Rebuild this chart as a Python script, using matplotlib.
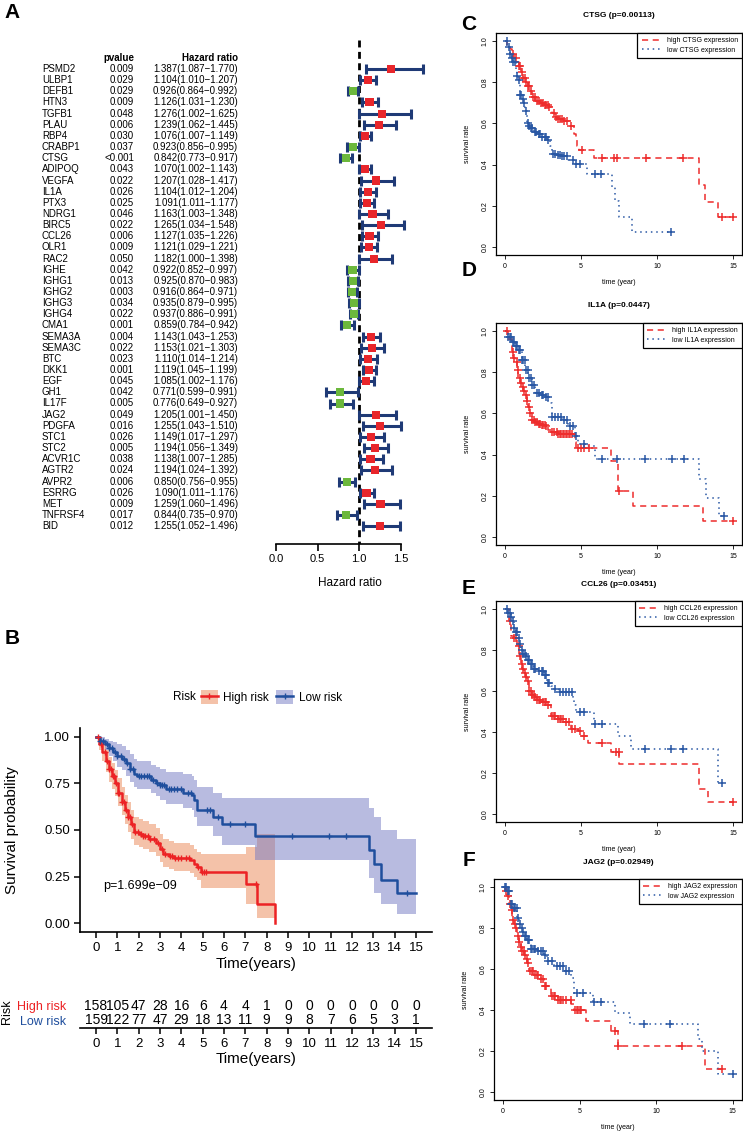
import numpy as np
import matplotlib
matplotlib.use("Agg")
import matplotlib.pyplot as plt
from matplotlib.lines import Line2D
from matplotlib.patches import Patch
from matplotlib.transforms import blended_transform_factory

plt.rcParams['font.family'] = ['Liberation Sans', 'DejaVu Sans']

# ---------------- panel A: univariate Cox forest ----------------
genes = ['PSMD2', 'ULBP1', 'DEFB1', 'HTN3', 'TGFB1', 'PLAU', 'RBP4', 'CRABP1', 'CTSG',
         'ADIPOQ', 'VEGFA', 'IL1A', 'PTX3', 'NDRG1', 'BIRC5', 'CCL26', 'OLR1', 'RAC2',
         'IGHE', 'IGHG1', 'IGHG2', 'IGHG3', 'IGHG4', 'CMA1', 'SEMA3A', 'SEMA3C', 'BTC',
         'DKK1', 'EGF', 'GH1', 'IL17F', 'JAG2', 'PDGFA', 'STC1', 'STC2', 'ACVR1C',
         'AGTR2', 'AVPR2', 'ESRRG', 'MET', 'TNFRSF4', 'BID']
pvals = ['0.009', '0.029', '0.029', '0.009', '0.048', '0.006', '0.030', '0.037', '<0.001',
         '0.043', '0.022', '0.026', '0.025', '0.046', '0.022', '0.006', '0.009', '0.050',
         '0.042', '0.013', '0.003', '0.034', '0.022', '0.001', '0.004', '0.022', '0.023',
         '0.001', '0.045', '0.042', '0.005', '0.049', '0.016', '0.026', '0.005', '0.038',
         '0.024', '0.006', '0.026', '0.009', '0.017', '0.012']
hr = [1.387, 1.104, 0.926, 1.126, 1.276, 1.239, 1.076, 0.923, 0.842, 1.070, 1.207, 1.104,
      1.091, 1.163, 1.265, 1.127, 1.121, 1.182, 0.922, 0.925, 0.916, 0.935, 0.937, 0.859,
      1.143, 1.153, 1.110, 1.119, 1.085, 0.771, 0.776, 1.205, 1.255, 1.149, 1.194, 1.138,
      1.194, 0.850, 1.090, 1.259, 0.844, 1.255]
hr_low = [1.087, 1.010, 0.864, 1.031, 1.002, 1.062, 1.007, 0.856, 0.773, 1.002, 1.028, 1.012,
          1.011, 1.003, 1.034, 1.035, 1.029, 1.000, 0.852, 0.870, 0.864, 0.879, 0.886, 0.784,
          1.043, 1.021, 1.014, 1.045, 1.002, 0.599, 0.649, 1.001, 1.043, 1.017, 1.056, 1.007,
          1.024, 0.756, 1.011, 1.060, 0.735, 1.052]
hr_high = [1.770, 1.207, 0.992, 1.230, 1.625, 1.445, 1.149, 0.995, 0.917, 1.143, 1.417, 1.204,
           1.177, 1.348, 1.548, 1.226, 1.221, 1.398, 0.997, 0.983, 0.971, 0.995, 0.991, 0.942,
           1.253, 1.303, 1.214, 1.199, 1.176, 0.991, 0.927, 1.450, 1.510, 1.297, 1.349, 1.285,
           1.392, 0.955, 1.176, 1.496, 0.970, 1.496]

# ---------------- panel B: risk score KM ----------------
b_high_t = [0, 0.15, 0.3, 0.45, 0.6, 0.75, 0.9, 1.05, 1.2, 1.35, 1.5, 1.65, 1.8, 2.0, 2.2,
            2.5, 2.8, 3.0, 3.15, 3.4, 3.65, 4.4, 4.6, 4.75, 4.9, 7.05, 7.55, 8.4]
b_high_s = [1.0, 0.96, 0.92, 0.87, 0.83, 0.79, 0.75, 0.70, 0.65, 0.61, 0.57, 0.53, 0.49, 0.48,
            0.47, 0.45, 0.43, 0.40, 0.37, 0.36, 0.35, 0.34, 0.32, 0.30, 0.275, 0.21, 0.10, 0.0]
b_high_up = [1.0, 0.99, 0.96, 0.93, 0.89, 0.86, 0.82, 0.78, 0.73, 0.69, 0.65, 0.61, 0.57, 0.56,
             0.55, 0.53, 0.51, 0.48, 0.45, 0.44, 0.43, 0.42, 0.40, 0.38, 0.37, 0.41, 0.48, 0.48]
b_high_lo = [1.0, 0.93, 0.87, 0.81, 0.76, 0.72, 0.68, 0.63, 0.58, 0.53, 0.49, 0.45, 0.42, 0.41,
             0.40, 0.38, 0.36, 0.33, 0.30, 0.29, 0.28, 0.27, 0.25, 0.23, 0.19, 0.10, 0.025, 0.025]
b_high_cens = [0.1, 0.25, 0.4, 0.5, 0.6, 0.7, 0.8, 0.85, 0.95, 1.05, 1.1, 1.2, 1.3, 1.4, 1.5,
               1.6, 1.7, 1.85, 1.95, 2.1, 2.2, 2.3, 2.45, 2.55, 2.7, 2.9, 3.1, 3.25, 3.45,
               3.55, 3.7, 3.85, 4.0, 4.2, 4.35, 4.8, 4.95, 5.05, 5.15, 7.5]

b_low_t = [0, 0.2, 0.4, 0.6, 0.8, 1.0, 1.2, 1.4, 1.6, 1.8, 1.9, 2.6, 2.8, 3.0, 3.3, 3.9, 4.1,
           4.5, 4.6, 4.75, 5.5, 5.9, 7.45, 12.8, 13.05, 13.35, 14.1, 15.0]
b_low_s = [1.0, 0.98, 0.96, 0.94, 0.92, 0.90, 0.88, 0.86, 0.83, 0.80, 0.79, 0.77, 0.75, 0.74,
           0.72, 0.72, 0.70, 0.69, 0.66, 0.61, 0.57, 0.53, 0.47, 0.39, 0.32, 0.23, 0.16, 0.16]
b_low_up = [1.0, 1.0, 0.99, 0.98, 0.97, 0.96, 0.95, 0.93, 0.91, 0.88, 0.87, 0.85, 0.84, 0.83,
            0.81, 0.81, 0.80, 0.79, 0.77, 0.73, 0.70, 0.67, 0.67, 0.62, 0.57, 0.50, 0.45, 0.45]
b_low_lo = [1.0, 0.96, 0.93, 0.90, 0.87, 0.84, 0.82, 0.79, 0.76, 0.73, 0.72, 0.70, 0.68, 0.66,
            0.64, 0.64, 0.62, 0.61, 0.57, 0.52, 0.47, 0.42, 0.34, 0.24, 0.16, 0.10, 0.05, 0.05]
b_low_cens = [0.2, 0.35, 0.5, 0.6, 0.75, 0.9, 1.0, 1.15, 1.3, 1.45, 1.6, 1.75, 2.0, 2.1, 2.25,
              2.4, 2.5, 2.65, 2.85, 3.0, 3.1, 3.2, 3.4, 3.5, 3.65, 3.8, 4.0, 4.3, 4.45, 5.2,
              5.35, 5.7, 6.3, 7.0, 9.2, 10.9, 11.7, 14.6]

risk_years = list(range(16))
n_high = [158, 105, 47, 28, 16, 6, 4, 4, 1, 0, 0, 0, 0, 0, 0, 0]
n_low = [159, 122, 77, 47, 29, 18, 13, 11, 9, 9, 8, 7, 6, 5, 3, 1]

# ---------------- panels C-F: single gene KM ----------------
c_hi_t = [0, 0.15, 0.3, 0.45, 0.6, 0.75, 0.9, 1.05, 1.2, 1.35, 1.5, 1.65, 1.8, 2.0, 2.3, 2.6,
          2.9, 3.1, 3.3, 3.5, 3.9, 4.3, 4.55, 4.65, 4.75, 4.85, 5.85, 12.8, 13.15, 14.0, 15.0]
c_hi_s = [1.0, 0.98, 0.96, 0.94, 0.92, 0.90, 0.88, 0.85, 0.82, 0.80, 0.78, 0.76, 0.73, 0.71,
          0.70, 0.69, 0.68, 0.65, 0.63, 0.62, 0.61, 0.59, 0.55, 0.52, 0.49, 0.47, 0.43, 0.30,
          0.217, 0.144, 0.144]
c_hi_c = [0.5, 0.7, 0.9, 1.0, 1.1, 1.2, 1.3, 1.4, 1.5, 1.6, 1.7, 1.85, 1.95, 2.1, 2.2, 2.35,
          2.5, 2.6, 2.7, 2.8, 2.9, 3.2, 3.35, 3.5, 3.6, 3.75, 3.9, 4.1, 4.35, 5.05, 6.4, 7.2,
          7.4, 9.3, 11.7, 14.3, 15.0]
c_lo_t = [0, 0.15, 0.33, 0.45, 0.55, 0.7, 0.77, 0.88, 0.99, 1.1, 1.21, 1.32, 1.43, 1.55, 1.65,
          1.9, 2.1, 2.4, 2.76, 2.98, 3.09, 3.4, 3.64, 4.1, 4.52, 5.4, 7.06, 7.25, 7.5, 8.38, 10.9]
c_lo_s = [1.0, 0.97, 0.94, 0.92, 0.90, 0.86, 0.83, 0.81, 0.74, 0.72, 0.70, 0.66, 0.60, 0.59,
          0.58, 0.56, 0.55, 0.535, 0.52, 0.49, 0.45, 0.445, 0.44, 0.42, 0.405, 0.356, 0.29,
          0.225, 0.144, 0.074, 0.074]
c_lo_c = [0.1, 0.25, 0.35, 0.45, 0.55, 0.65, 0.8, 0.9, 1.0, 1.05, 1.15, 1.25, 1.35, 1.5, 1.6,
          1.7, 1.8, 1.95, 2.05, 2.2, 2.3, 2.45, 2.6, 2.7, 2.85, 3.15, 3.3, 3.5, 3.6, 3.75, 3.9,
          4.05, 4.5, 4.7, 4.9, 5.9, 6.3, 10.9]

d_hi_t = [0, 0.2, 0.44, 0.55, 0.66, 0.77, 0.88, 1.0, 1.09, 1.2, 1.31, 1.42, 1.53, 1.64, 1.75,
          2.0, 2.19, 2.4, 2.63, 2.85, 3.07, 3.5, 4.6, 4.7, 7.0, 7.45, 8.4, 13.0, 15.0]
d_hi_s = [1.0, 0.96, 0.90, 0.87, 0.85, 0.81, 0.77, 0.75, 0.73, 0.71, 0.69, 0.66, 0.63, 0.60,
          0.57, 0.56, 0.55, 0.545, 0.54, 0.52, 0.51, 0.50, 0.46, 0.43, 0.37, 0.225, 0.149,
          0.078, 0.078]
d_hi_c = [0.1, 0.5, 0.6, 0.75, 0.85, 0.95, 1.05, 1.15, 1.25, 1.35, 1.45, 1.55, 1.65, 1.8, 1.9,
          2.0, 2.1, 2.2, 2.3, 2.4, 2.5, 2.6, 2.7, 3.1, 3.2, 3.4, 3.5, 3.6, 3.7, 3.8, 3.9, 4.0,
          4.1, 4.2, 4.3, 4.4, 4.8, 5.0, 5.2, 5.5, 7.5, 15.0]
d_lo_t = [0, 0.2, 0.44, 0.66, 0.88, 1.09, 1.31, 1.53, 1.75, 1.97, 2.3, 2.63, 2.85, 3.07, 3.72,
          4.16, 4.6, 4.82, 5.26, 5.9, 12.8, 13.25, 14.1, 14.4]
d_lo_s = [1.0, 0.97, 0.95, 0.93, 0.91, 0.86, 0.81, 0.77, 0.74, 0.70, 0.69, 0.68, 0.65, 0.585,
          0.57, 0.54, 0.49, 0.45, 0.44, 0.377, 0.283, 0.19, 0.10, 0.10]
d_lo_c = [0.2, 0.3, 0.4, 0.5, 0.6, 0.7, 0.8, 0.9, 1.0, 1.1, 1.2, 1.3, 1.4, 1.5, 1.6, 1.7, 1.8,
          1.9, 2.1, 2.2, 2.4, 2.5, 2.7, 2.8, 3.1, 3.3, 3.5, 3.7, 3.9, 4.1, 4.3, 4.5, 4.7, 5.2,
          6.4, 7.4, 9.2, 11.0, 11.8, 14.4]

e_hi_t = [0, 0.26, 0.37, 0.59, 0.81, 0.92, 1.03, 1.14, 1.25, 1.36, 1.47, 1.58, 1.75, 1.91, 2.1,
          2.35, 2.79, 3.01, 3.45, 3.89, 4.33, 4.77, 4.99, 5.43, 6.97, 7.52, 12.8, 13.35, 15.0]
e_hi_s = [1.0, 0.94, 0.87, 0.86, 0.82, 0.77, 0.73, 0.71, 0.69, 0.67, 0.65, 0.60, 0.58, 0.57,
          0.555, 0.545, 0.53, 0.48, 0.463, 0.447, 0.414, 0.406, 0.38, 0.344, 0.30, 0.242, 0.12,
          0.059, 0.059]
e_hi_c = [0.3, 0.6, 0.7, 0.9, 1.0, 1.1, 1.2, 1.3, 1.4, 1.5, 1.6, 1.7, 1.8, 1.9, 2.0, 2.1, 2.2,
          2.3, 2.5, 2.6, 2.7, 2.8, 3.1, 3.2, 3.3, 3.5, 3.6, 3.7, 3.8, 4.0, 4.2, 4.4, 4.6, 4.9,
          5.2, 6.4, 7.3, 7.5, 15.0]
e_lo_t = [0, 0.2, 0.37, 0.5, 0.59, 0.7, 0.81, 0.92, 1.03, 1.2, 1.36, 1.5, 1.69, 1.9, 2.13,
          2.57, 2.79, 3.0, 3.23, 3.56, 4.44, 4.55, 4.66, 5.87, 7.41, 8.29, 14.0, 14.34]
e_lo_s = [1.0, 0.98, 0.96, 0.94, 0.91, 0.89, 0.86, 0.83, 0.80, 0.78, 0.77, 0.75, 0.73, 0.71,
          0.70, 0.68, 0.64, 0.625, 0.61, 0.594, 0.56, 0.53, 0.496, 0.44, 0.38, 0.316, 0.152,
          0.152]
e_lo_c = [0.1, 0.2, 0.3, 0.4, 0.5, 0.6, 0.7, 0.8, 0.9, 1.0, 1.1, 1.2, 1.3, 1.4, 1.5, 1.6, 1.7,
          1.8, 1.9, 2.0, 2.2, 2.4, 2.5, 2.6, 2.7, 2.8, 2.9, 3.3, 3.6, 3.8, 4.0, 4.2, 4.4, 4.9,
          5.2, 5.9, 6.4, 9.2, 10.9, 11.7, 14.3]

f_hi_t = [0, 0.15, 0.26, 0.37, 0.48, 0.59, 0.7, 0.81, 0.92, 1.03, 1.14, 1.25, 1.36, 1.47, 1.58,
          1.69, 2.01, 2.45, 2.67, 3.11, 3.55, 4.42, 4.64, 5.41, 7.05, 7.49, 13.18, 14.28]
f_hi_s = [1.0, 0.98, 0.956, 0.92, 0.89, 0.84, 0.82, 0.80, 0.76, 0.73, 0.71, 0.69, 0.67, 0.65,
          0.63, 0.59, 0.573, 0.549, 0.516, 0.467, 0.451, 0.427, 0.40, 0.345, 0.296, 0.223,
          0.112, 0.112]
f_hi_c = [0.2, 0.3, 0.45, 0.55, 0.65, 0.75, 0.85, 0.95, 1.05, 1.15, 1.25, 1.35, 1.45, 1.55,
          1.65, 1.75, 1.85, 1.95, 2.1, 2.2, 2.3, 2.5, 2.6, 2.7, 2.8, 3.2, 3.3, 3.4, 3.6, 3.7,
          3.8, 3.9, 4.1, 4.4, 4.7, 4.8, 4.9, 5.0, 5.1, 7.3, 7.5, 11.7, 14.3]
f_lo_t = [0, 0.26, 0.48, 0.7, 0.92, 1.03, 1.14, 1.25, 1.36, 1.58, 1.8, 2.23, 2.67, 2.89, 3.33,
          3.98, 4.42, 4.64, 5.85, 7.3, 8.3, 12.74, 12.96, 14.06, 15.0]
f_lo_s = [1.0, 0.98, 0.92, 0.90, 0.85, 0.82, 0.80, 0.78, 0.76, 0.74, 0.70, 0.687, 0.67, 0.64,
          0.614, 0.59, 0.557, 0.484, 0.438, 0.386, 0.329, 0.256, 0.20, 0.085, 0.085]
f_lo_c = [0.1, 0.2, 0.3, 0.4, 0.5, 0.6, 0.7, 0.8, 0.9, 1.0, 1.1, 1.2, 1.3, 1.4, 1.5, 1.6, 1.7,
          1.8, 1.9, 2.0, 2.1, 2.3, 2.5, 2.6, 2.7, 2.9, 3.2, 3.5, 3.7, 3.9, 4.1, 4.3, 4.8, 5.2,
          5.9, 6.4, 9.2, 10.9, 15.0]

W, H = 743, 1136
fig = plt.figure(figsize=(W / 100, H / 100), dpi=100, facecolor='white')


def px_axes(left, top, right, bottom):
    return fig.add_axes([left / W, 1 - bottom / H, (right - left) / W, (bottom - top) / H])


def surv_at(times, surv, when):
    idx = np.searchsorted(times, when, side='right') - 1
    return np.asarray(surv)[idx]


def letter(x, y, s):
    fig.text(x / W, 1 - y / H, s, fontsize=15, fontweight='bold', ha='center', va='center')


# ---- A ----
letter(12, 12, 'A')
row0, row_h = 69, 11.15
axA = px_axes(266, 30, 430, 544)
axA.set_xlim(-10 / 83, 154 / 83)
axA.set_ylim((544 - row0) / row_h, (30 - row0) / row_h)
rows = np.arange(len(genes))
hr_a, lo_a, hi_a = np.array(hr), np.array(hr_low), np.array(hr_high)
axA.plot([1, 1], [(40 - row0) / row_h, (544 - row0) / row_h], color='black', lw=2,
         ls=(0, (2.5, 1.6)), zorder=1)
axA.errorbar(hr_a, rows, xerr=[hr_a - lo_a, hi_a - hr_a], fmt='none', ecolor='#1F3A76',
             elinewidth=2.2, capsize=3.3, capthick=2.2, zorder=2)
axA.scatter(hr_a, rows, marker='s', s=34, c=np.where(hr_a > 1, '#E8262B', '#6CB83C'),
            linewidths=0, zorder=3)
for side in ['top', 'left', 'right']:
    axA.spines[side].set_visible(False)
axA.spines['bottom'].set_bounds(0, 1.5)
axA.spines['bottom'].set_linewidth(1.2)
axA.set_yticks([])
axA.set_xticks([0, 0.5, 1.0, 1.5])
axA.set_xticklabels(['0.0', '0.5', '1.0', '1.5'])
axA.tick_params(axis='x', labelsize=8, length=5, width=1.2, pad=2)
axA.set_xlabel('Hazard ratio', fontsize=8.5)
axA.xaxis.set_label_coords(0.512, -0.064)

trA = blended_transform_factory(fig.transFigure, axA.transData)
head = (58 - row0) / row_h
axA.text(134 / W, head, 'pvalue', transform=trA, ha='right', va='center', fontsize=7,
         fontweight='bold')
axA.text(238 / W, head, 'Hazard ratio', transform=trA, ha='right', va='center', fontsize=7,
         fontweight='bold')
for i, g in enumerate(genes):
    axA.text(42 / W, i, g, transform=trA, ha='left', va='center', fontsize=7)
    axA.text(134 / W, i, pvals[i], transform=trA, ha='right', va='center', fontsize=7)
    axA.text(238 / W, i, f'{hr[i]:.3f}({hr_low[i]:.3f}\u2212{hr_high[i]:.3f})', transform=trA,
             ha='right', va='center', fontsize=7)

# ---- B ----
letter(12, 639, 'B')
red_b, blue_b = '#EC2224', '#1F4E9D'
axB = px_axes(80, 727.6, 432, 932.4)
axB.fill_between(b_high_t, b_high_lo, b_high_up, step='post', color='#EB8755', alpha=0.5,
                 linewidth=0)
axB.fill_between(b_low_t, b_low_lo, b_low_up, step='post', color='#7379C3', alpha=0.5,
                 linewidth=0)
axB.step(b_high_t, b_high_s, where='post', color=red_b, lw=1.8)
axB.step(b_low_t, b_low_s, where='post', color=blue_b, lw=1.8)
axB.plot(b_high_cens, surv_at(b_high_t, b_high_s, b_high_cens), '+', color=red_b, ms=5, mew=1)
axB.plot(b_low_cens, surv_at(b_low_t, b_low_s, b_low_cens), '+', color=blue_b, ms=5, mew=1)
axB.text(0.33, 0.2, 'p=1.699e\u221209', fontsize=9, ha='left', va='center')
axB.set_xlim(-0.75, 15.75)
axB.set_ylim(-0.05, 1.05)
axB.set_xticks(risk_years)
axB.set_yticks([0, 0.25, 0.5, 0.75, 1.0])
axB.set_yticklabels(['0.00', '0.25', '0.50', '0.75', '1.00'])
for side in ['top', 'right']:
    axB.spines[side].set_visible(False)
for side in ['left', 'bottom']:
    axB.spines[side].set_linewidth(1.2)
axB.tick_params(labelsize=9.5, length=4, width=1.1, pad=3)
axB.set_xlabel('Time(years)', fontsize=11)
axB.set_ylabel('Survival probability', fontsize=11)
axB.xaxis.set_label_coords(0.5, -0.12)
axB.yaxis.set_label_coords(-0.173, 0.5)

fig.text(173 / W, 1 - 697 / H, 'Risk', fontsize=8.5, ha='left', va='center')
leg_h = [(Patch(facecolor='#EB8755', alpha=0.5, linewidth=0),
          Line2D([], [], color=red_b, lw=1.8, marker='+', ms=5, mew=1)),
         (Patch(facecolor='#7379C3', alpha=0.5, linewidth=0),
          Line2D([], [], color=blue_b, lw=1.8, marker='+', ms=5, mew=1))]
fig.legend(leg_h, ['High risk', 'Low risk'], loc='center left',
           bbox_to_anchor=(201 / W, 1 - 697 / H), ncol=2, frameon=False, fontsize=8.5,
           handlelength=1.4, handleheight=1.4, columnspacing=0.6, handletextpad=0.5,
           borderpad=0, borderaxespad=0)

axT = px_axes(80, 995, 432, 1028)
axT.set_xlim(-0.75, 15.75)
axT.set_ylim(0, 1)
for yr, a, b in zip(risk_years, n_high, n_low):
    axT.text(yr, 0.667, str(a), ha='center', va='center', fontsize=10)
    axT.text(yr, 0.242, str(b), ha='center', va='center', fontsize=10)
for side in ['top', 'right', 'left']:
    axT.spines[side].set_visible(False)
axT.spines['bottom'].set_linewidth(1.2)
axT.set_xticks(risk_years)
axT.set_yticks([0.242, 0.667])
axT.set_yticklabels(['Low risk', 'High risk'])
axT.get_yticklabels()[0].set_color(blue_b)
axT.get_yticklabels()[1].set_color(red_b)
axT.tick_params(axis='y', length=0, labelsize=9, pad=10)
axT.tick_params(axis='x', labelsize=9.5, length=4, width=1.1, pad=3)
axT.set_xlabel('Time(years)', fontsize=11)
axT.set_ylabel('Risk', fontsize=9)
axT.xaxis.set_label_coords(0.5, -0.727)
axT.yaxis.set_label_coords(-0.19, 0.5)

# ---- C-F ----
red_s, blue_s = '#EE2C2C', '#2957A4'


def km_panel(rect, gene, title, hi_t, hi_s, hi_c, lo_t, lo_s, lo_c):
    ax = px_axes(*rect)
    ax.step(hi_t, hi_s, where='post', color=red_s, lw=1.1, ls=(0, (4, 3)))
    ax.step(lo_t, lo_s, where='post', color=blue_s, lw=1.1, ls=(0, (1, 2.5)))
    ax.plot(hi_c, surv_at(hi_t, hi_s, hi_c), '+', color=red_s, ms=5.5, mew=1.1)
    ax.plot(lo_c, surv_at(lo_t, lo_s, lo_c), '+', color=blue_s, ms=5.5, mew=1.1)
    ax.set_xlim(-0.6, 15.6)
    ax.set_ylim(-0.04, 1.04)
    ax.set_xticks([0, 5, 10, 15])
    ax.set_yticks([0, 0.2, 0.4, 0.6, 0.8, 1.0])
    ax.set_yticklabels(['0.0', '0.2', '0.4', '0.6', '0.8', '1.0'], rotation=90, va='center')
    ax.tick_params(labelsize=5, length=3, width=0.6, pad=2.5)
    for sp in ax.spines.values():
        sp.set_linewidth(0.9)
    ax.text(0.5, 1.0766, title, transform=ax.transAxes, ha='center', va='center', fontsize=6,
            fontweight='bold')
    ax.set_xlabel('time (year)', fontsize=5)
    ax.set_ylabel('survival rate', fontsize=5)
    ax.xaxis.set_label_coords(0.5, -0.11)
    ax.yaxis.set_label_coords(-0.1016, 0.5)
    handles = [Line2D([], [], color=red_s, lw=1.1, ls=(0, (4, 3))),
               Line2D([], [], color=blue_s, lw=1.1, ls=(0, (1, 2.5)))]
    lg = ax.legend(handles, [f'high {gene} expression', f'low {gene} expression'],
                   loc='upper right', borderaxespad=0, fancybox=False, edgecolor='black',
                   framealpha=1, fontsize=5, handlelength=2.8, handletextpad=0.8,
                   borderpad=0.6, labelspacing=0.35)
    lg.get_frame().set_linewidth(0.9)
    return ax


letter(469, 25, 'C')
km_panel((496, 33, 742, 255), 'CTSG', 'CTSG (p=0.00113)', c_hi_t, c_hi_s, c_hi_c,
         c_lo_t, c_lo_s, c_lo_c)
letter(469, 270, 'D')
km_panel((496, 323, 742, 545), 'IL1A', 'IL1A (p=0.0447)', d_hi_t, d_hi_s, d_hi_c,
         d_lo_t, d_lo_s, d_lo_c)
letter(469, 589, 'E')
km_panel((496, 601, 742, 822), 'CCL26', 'CCL26 (p=0.03451)', e_hi_t, e_hi_s, e_hi_c,
         e_lo_t, e_lo_s, e_lo_c)
letter(469, 860, 'F')
km_panel((494, 879, 742, 1100), 'JAG2', 'JAG2 (p=0.02949)', f_hi_t, f_hi_s, f_hi_c,
         f_lo_t, f_lo_s, f_lo_c)

fig.savefig('out.png', dpi=100, facecolor='white')
